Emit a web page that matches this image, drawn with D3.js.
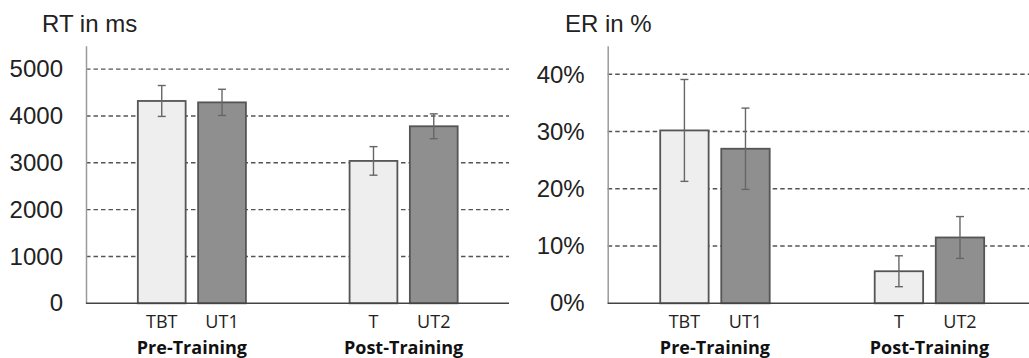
<!DOCTYPE html>
<html>
<head>
<meta charset="utf-8">
<script src="https://cdn.jsdelivr.net/npm/d3@7"></script>
<style>
  html, body { margin: 0; padding: 0; background: #fff; }
  svg { display: block; }
</style>
</head>
<body>
<svg id="chart" width="1029" height="358"></svg>
<script>
// ---- data ----
const groups = ["Pre-Training", "Post-Training"];
const conditions = [["TBT", "UT1"], ["T", "UT2"]];
const conditionType = [["trained", "untrained"], ["trained", "untrained"]];
const rtValues = [[4320, 4290], [3040, 3780]];
const rtErrors = [[330, 280], [305, 265]];
const erValues = [[30.2, 27.0], [5.6, 11.5]];
const erErrors = [[8.9, 7.1], [2.7, 3.65]];
const rtTicks = [0, 1000, 2000, 3000, 4000, 5000];
const erTicks = [0, 10, 20, 30, 40];
const rtTitle = "RT in ms";
const erTitle = "ER in %";

// ---- styles ----
const fills = { trained: "#eeeeee", untrained: "#8f8f8f" };
const textColor = "#222";
const svg = d3.select("#chart");

function drawPanel(opt) {
  const g = svg.append("g");
  const y = d3.scaleLinear().domain(opt.domain).range([opt.bottom, opt.top]);
  const x0 = d3.scaleBand().domain(groups)
    .range([opt.left, opt.left + opt.outerWidth])
    .paddingInner(0).paddingOuter(0);
  const x1 = d3.scaleBand().domain([0, 1])
    .range([0, x0.bandwidth()])
    .paddingInner(0.207).paddingOuter(0.86);

  // gridlines
  g.append("g").selectAll("line")
    .data(opt.ticks.filter(t => t > 0))
    .join("line")
    .attr("x1", opt.left).attr("x2", opt.right)
    .attr("y1", d => y(d)).attr("y2", d => y(d))
    .attr("stroke", "#555").attr("stroke-width", 1.4)
    .attr("stroke-dasharray", "4.5,3");

  // y axis (line + labels)
  const yAxis = d3.axisLeft(y).tickValues(opt.ticks).tickSize(0).tickPadding(23)
    .tickFormat(opt.fmt);
  const ya = g.append("g").attr("transform", `translate(${opt.left},0)`).call(yAxis);
  ya.select(".domain").attr("stroke", "#9a9a9a").attr("stroke-width", 1.5);
  ya.selectAll("text")
    .attr("font-family", "'Liberation Sans', Arial, sans-serif")
    .attr("font-size", 24).attr("fill", textColor);

  // bars
  const flat = [];
  groups.forEach((grp, gi) => {
    conditions[gi].forEach((c, ci) => {
      flat.push({ grp, gi, ci, label: c, type: conditionType[gi][ci],
        v: opt.values[gi][ci], e: opt.errors[gi][ci] });
    });
  });
  const bx = d => x0(d.grp) + x1(d.ci);
  g.append("g").selectAll("rect").data(flat).join("rect")
    .attr("x", bx)
    .attr("y", d => y(d.v))
    .attr("width", x1.bandwidth())
    .attr("height", d => y(0) - y(d.v))
    .attr("fill", d => fills[d.type])
    .attr("stroke", "#555").attr("stroke-width", 1.8);

  // error bars
  const eb = g.append("g").selectAll("g").data(flat).join("g")
    .attr("stroke", "#666").attr("stroke-width", 1.4);
  const cx = d => bx(d) + x1.bandwidth() / 2;
  eb.append("line").attr("x1", cx).attr("x2", cx)
    .attr("y1", d => y(d.v + d.e)).attr("y2", d => y(d.v - d.e));
  eb.append("line").attr("x1", d => cx(d) - 4).attr("x2", d => cx(d) + 4)
    .attr("y1", d => y(d.v + d.e)).attr("y2", d => y(d.v + d.e));
  eb.append("line").attr("x1", d => cx(d) - 4).attr("x2", d => cx(d) + 4)
    .attr("y1", d => y(d.v - d.e)).attr("y2", d => y(d.v - d.e));

  // baseline
  g.append("line").attr("x1", opt.left).attr("x2", opt.right)
    .attr("y1", y(0)).attr("y2", y(0))
    .attr("stroke", "#444").attr("stroke-width", 1.5);

  // category labels
  g.append("g").selectAll("text").data(flat).join("text")
    .attr("x", cx).attr("y", opt.bottom + 25)
    .attr("text-anchor", "middle")
    .attr("font-family", "'Open Sans', sans-serif")
    .attr("font-size", 18).attr("fill", textColor)
    .text(d => d.label);

  // group labels
  g.append("g").selectAll("text").data(groups).join("text")
    .attr("x", d => x0(d) + x0.bandwidth() / 2).attr("y", opt.bottom + 51)
    .attr("text-anchor", "middle")
    .attr("font-family", "'Open Sans', sans-serif")
    .attr("font-weight", "bold")
    .attr("font-size", 18).attr("fill", "#111")
    .text(d => d);

  // title
  g.append("text").attr("x", opt.titleX).attr("y", 32)
    .attr("font-family", "'Liberation Sans', Arial, sans-serif")
    .attr("font-size", 24).attr("fill", textColor)
    .text(opt.title);
}

drawPanel({
  left: 86, right: 509, outerWidth: 423.5, top: 45.7, bottom: 303.3,
  domain: [0, 5500], ticks: rtTicks, fmt: d => d,
  values: rtValues, errors: rtErrors, title: rtTitle, titleX: 42
});
drawPanel({
  left: 607.7, right: 1029, outerWidth: 429, top: 45.7, bottom: 303.3,
  domain: [0, 45], ticks: erTicks, fmt: d => d + "%",
  values: erValues, errors: erErrors, title: erTitle, titleX: 565
});
</script>
</body>
</html>
